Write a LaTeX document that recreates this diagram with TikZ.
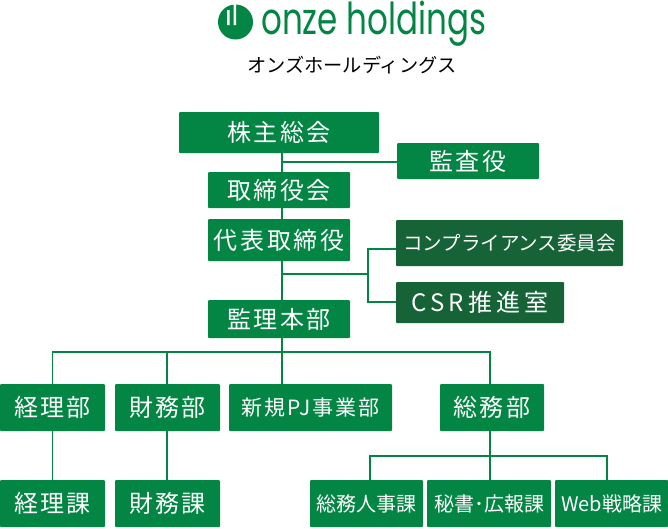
\documentclass[tikz,border=0pt]{standalone}
\usepackage{xcolor}
\usepackage{fontspec}
\setmainfont{Noto Sans CJK JP}
\newfontfamily\logofont[FakeStretch=0.74]{Poppins}
\definecolor{onzegreen}{HTML}{038543}
\definecolor{onzedark}{HTML}{156336}
\usetikzlibrary{positioning}

\begin{document}
\begin{tikzpicture}[
  x=1pt, y=-1pt,
  box/.style={fill=#1, text=white, rounded corners=1pt, inner sep=0pt, align=center},
  box/.default=onzegreen,
  big/.style={font=\fontsize{24}{26}\selectfont\addfontfeature{LetterSpace=#1}},
  big/.default=10,
  small/.style={font=\fontsize{20}{22}\selectfont\addfontfeature{LetterSpace=#1}},
  small/.default=0,
  conn/.style={draw=onzegreen, line width=1.8pt}
]
\useasboundingbox (0,0) rectangle (668,528);

% ---- logo ----
\fill[onzegreen] (235.5,22) circle (17.5);
\fill[white] (227,10) rectangle (229.5,25) (233.5,4) rectangle (236,25);
\node[text=onzegreen, font=\logofont\fontsize{44}{46}\selectfont, anchor=base west, inner sep=0pt] (logo) at (261,34) {onze holdings};
\node[text=black, font=\fontsize{19.2}{20}\selectfont, inner sep=0pt] (kana) at (352,65) {オンズホールディングス};

% ---- upper column ----
\node[box, big, minimum width=200, minimum height=41] (soukai) at (279,132.5) {株主総会};
\node[box, big, minimum width=142, minimum height=36] (kansa) at (468,161) {監査役};
\node[box, big, minimum width=142, minimum height=36] (torishimari) at (279,190) {取締役会};
\node[box, big=11, minimum width=142, minimum height=42] (daihyou) at (279,240) {代表取締役};
\node[box, big, minimum width=142, minimum height=38] (kanri) at (279,319) {監理本部};

% ---- dark boxes ----
\node[box=onzedark, font=\fontsize{19.5}{22}\selectfont, minimum width=227, minimum height=46] (comp) at (509.5,243) {コンプライアンス委員会};
\node[box=onzedark, big=17, minimum width=168, minimum height=41] (csr) at (480,302.5) {CSR推進室};

% ---- departments ----
\node[box, big, minimum width=105, minimum height=47] (keiri) at (52.5,407.5) {経理部};
\node[box, big, minimum width=105, minimum height=47] (zaimu) at (167.5,407.5) {財務部};
\node[box, font=\fontsize{21}{22}\selectfont\addfontfeature{LetterSpace=9}, minimum width=163, minimum height=47] (shinki) at (310.5,407.5) {新規PJ事業部};
\node[box, big, minimum width=104, minimum height=47] (soumu) at (492,407.5) {総務部};

% ---- sections ----
\node[box, big, minimum width=105, minimum height=47] (keirika) at (52.5,503.5) {経理課};
\node[box, big, minimum width=105, minimum height=47] (zaimuka) at (167.5,503.5) {財務課};
\node[box, small, minimum width=113, minimum height=47] (jinji) at (366.5,503.5) {総務人事課};
\node[box, small, minimum width=124, minimum height=47] (hisho) at (489,503.5) {秘書･広報課};
\node[box, small, minimum width=113, minimum height=47] (web) at (611.5,503.5) {Web戦略課};

% ---- junction points ----
\coordinate (trunk) at (282,162);
\coordinate (split) at (282,274);
\coordinate (fork) at (368,274);
\coordinate (bus) at (282,352);
\coordinate (lowbus) at (490,456);

% ---- trunk ----
\draw[conn] (soukai.south -| trunk) -- (torishimari.north -| trunk);
\draw[conn] (trunk) -- (kansa.west |- trunk);
\draw[conn] (torishimari.south -| trunk) -- (daihyou.north -| trunk);
\draw[conn] (daihyou.south -| trunk) -- (kanri.north -| trunk);
\draw[conn] (kanri.south -| trunk) -- (shinki.north -| trunk);

% ---- committees ----
\draw[conn] (split) -- (fork);
\draw[conn] (comp.west |- 0,249) -| (fork) |- (csr.west |- 0,302);

% ---- department bus ----
\draw[conn] (keiri.north) |- (bus);
\draw[conn] (bus) -| (soumu.north -| lowbus);
\draw[conn] (zaimu.north -| 167,0) -- (167,352);

% ---- sections ----
\draw[conn] (keiri.south) -- (keirika.north);
\draw[conn] (zaimu.south -| 167,0) -- (zaimuka.north -| 167,0);
\draw[conn] (soumu.south -| lowbus) -- (lowbus) -- (hisho.north -| lowbus);
\draw[conn] (jinji.north -| 370,0) |- (lowbus);
\draw[conn] (web.north -| 607,0) |- (lowbus);

\end{tikzpicture}
\end{document}
